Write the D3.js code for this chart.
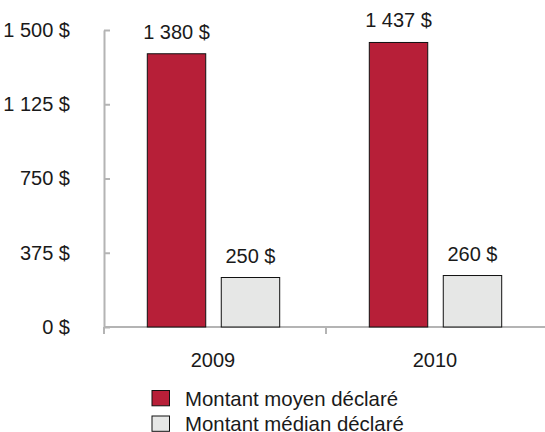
<!DOCTYPE html>
<meta charset="utf-8">
<style>
  body { margin: 0; background: #fff; }
  svg { display: block; font-family: "Liberation Sans", Arial, sans-serif; }
  .axis path, .axis line { stroke: #b4b4b4; stroke-width: 2; }
  .axis text { fill: #1a1a1a; font-size: 20px; }
  .barText { fill: #1a1a1a; font-size: 20px; }
  .legend text { fill: #1a1a1a; font-size: 20.4px; }
</style>
<body>
<div id="viz"></div>
<script src="https://cdnjs.cloudflare.com/ajax/libs/d3/7.8.5/d3.min.js"></script>
<script>
// categories and series
var years = ['2009', '2010'];
var meanValues = [1380, 1437];
var medianValues = [250, 260];
var yTicks = [0, 375, 750, 1125, 1500];
var seriesNames = ['Montant moyen déclaré', 'Montant médian déclaré'];
var seriesKeys = ['mean', 'median'];
var seriesColors = ['#b71f38', '#e6e7e6'];

var data = years.map(function(y, i) {
  return { year: y, mean: meanValues[i], median: medianValues[i] };
});

// french money format : "1 500 $"
var fr = d3.formatLocale({ decimal: ',', thousands: '\u00a0', grouping: [3], currency: ['', '\u00a0$'] });
var money = fr.format('$,.0f');

var width = 545, height = 432;

var svg = d3.select('#viz').append('svg')
    .attr('width', width)
    .attr('height', height);

var x = d3.scaleBand().domain(years).range([104, 548]);
var xInner = d3.scaleBand().domain(seriesKeys).range([43.3, 175.7]).paddingInner(0.21);
var y = d3.scaleLinear().domain([0, 1500]).range([327, 30]);

// Y axis (ticks pointing inside)
svg.append('g')
    .attr('class', 'axis')
    .attr('transform', 'translate(' + x.range()[0] + ',0)')
    .call(d3.axisLeft(y).tickValues(yTicks).tickFormat(money)
      .tickSizeInner(-6).tickSizeOuter(0).tickPadding(34));

// X axis: baseline + separators, labels centered under groups
var xg = svg.append('g')
    .attr('class', 'axis')
    .attr('transform', 'translate(0,' + y(0) + ')')
    .call(d3.axisBottom(x).tickSize(0).tickPadding(25.5));
xg.select('.domain').attr('d', 'M' + x.range()[0] + ',0H' + width);
xg.selectAll('.sep')
    .data(years.concat(['end']))
    .enter().append('line')
    .attr('x1', function(d, i) { return x.range()[0] + i * x.step(); })
    .attr('x2', function(d, i) { return x.range()[0] + i * x.step(); })
    .attr('y1', 0)
    .attr('y2', 7);
xg.selectAll('.tick text').attr('dx', -2);

// bars
var groups = svg.selectAll('.grp')
    .data(data)
    .enter().append('g')
    .attr('transform', function(d) { return 'translate(' + x(d.year) + ',0)'; });

groups.selectAll('rect')
    .data(function(d) { return seriesKeys.map(function(k) { return { key: k, value: d[k] }; }); })
    .enter().append('rect')
    .attr('x', function(d) { return xInner(d.key); })
    .attr('y', function(d) { return y(d.value); })
    .attr('width', xInner.bandwidth())
    .attr('height', function(d) { return y(0) - y(d.value); })
    .attr('fill', function(d, i) { return seriesColors[i]; })
    .attr('stroke', '#111')
    .attr('stroke-width', 1);

groups.selectAll('.barText')
    .data(function(d) { return seriesKeys.map(function(k) { return { key: k, value: d[k] }; }); })
    .enter().append('text')
    .attr('class', 'barText')
    .attr('x', function(d) { return xInner(d.key) + xInner.bandwidth() / 2; })
    .attr('y', function(d) { return y(d.value) - 15; })
    .attr('text-anchor', 'middle')
    .text(function(d) { return money(d.value); });

// legend
var legend = svg.append('g').attr('class', 'legend')
    .selectAll('g')
    .data(seriesNames)
    .enter().append('g')
    .attr('transform', function(d, i) { return 'translate(152,' + (390.5 + i * 25.5) + ')'; });

legend.append('rect')
    .attr('width', 17.5)
    .attr('height', 15.3)
    .attr('fill', function(d, i) { return seriesColors[i]; })
    .attr('stroke', '#111')
    .attr('stroke-width', 1);

legend.append('text')
    .attr('x', 33)
    .attr('y', 15)
    .text(function(d) { return d; });
</script>
</body>
